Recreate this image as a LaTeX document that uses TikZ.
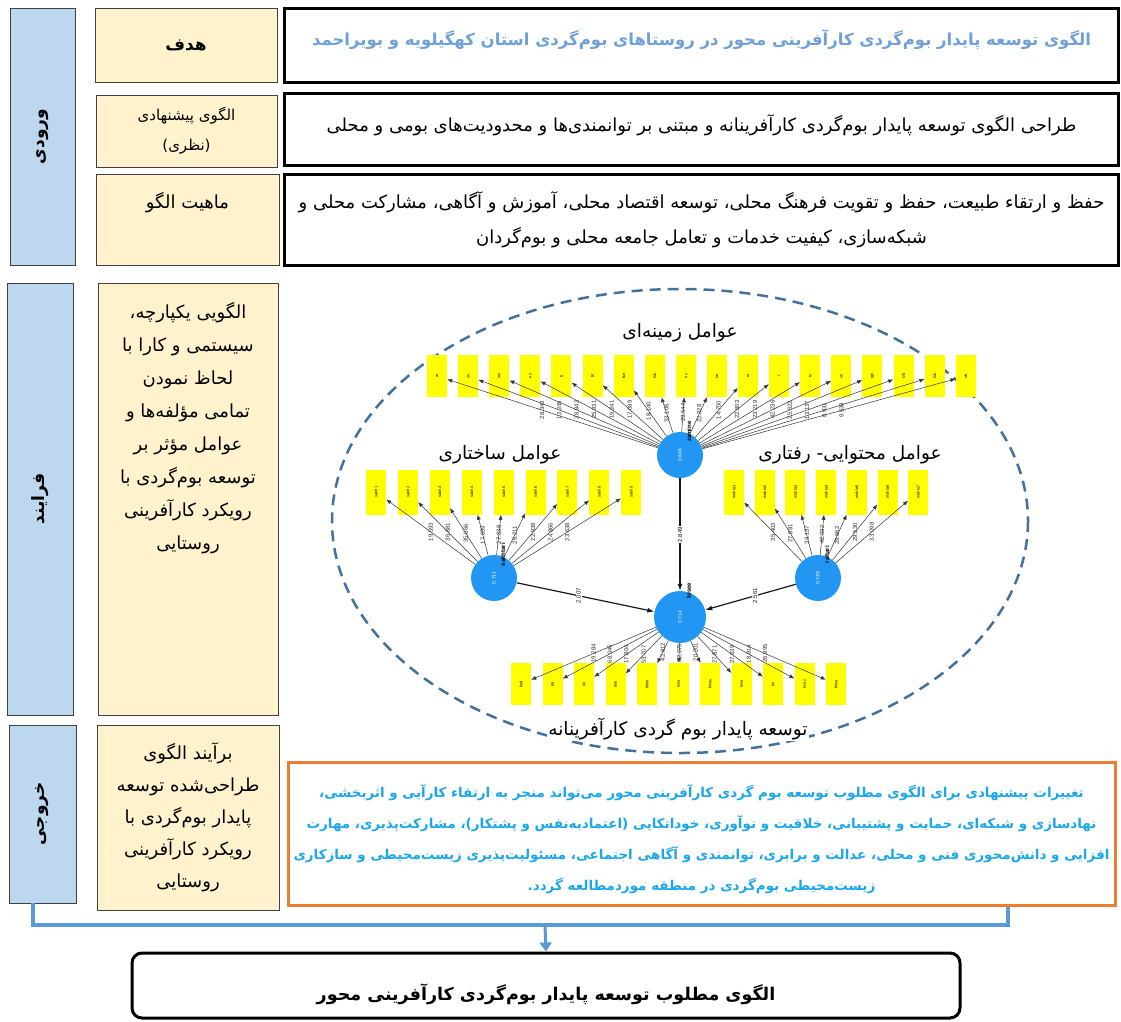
\documentclass[tikz,border=0pt]{standalone}
\usepackage{fontspec}
\usetikzlibrary{arrows.meta}
\TeXXeTstate=1
\newfontfamily\fa[Script=Arabic]{DejaVu Sans}
\newfontfamily\lat{Liberation Sans}
\definecolor{phaseblue}{HTML}{BDD7EE}
\definecolor{cellbeige}{HTML}{FFF2CC}
\definecolor{titleblue}{HTML}{6FA0D8}
\definecolor{ringblue}{HTML}{41719C}
\definecolor{linkblue}{HTML}{5B9BD5}
\definecolor{orng}{HTML}{ED7D31}
\definecolor{skyblue}{HTML}{1AA7EC}
\definecolor{lvblue}{HTML}{2196F3}
\definecolor{indyellow}{HTML}{FFFF00}
\newcommand{\rl}[1]{\beginR #1\endR}
\newcommand{\nj}{^^^^200c}

\begin{document}
\begin{tikzpicture}[x=1pt,y=-1pt,
  phase/.style={draw=black!75, fill=phaseblue, line width=1pt, rotate=90, inner sep=0pt,
    font=\fa\bfseries\fontsize{17}{20}\selectfont},
  cell/.style={draw=black!75, fill=cellbeige, line width=1pt, inner sep=0pt, align=center,
    font=\fa\fontsize{18}{32}\selectfont},
  frame/.style={draw=black, line width=3pt, fill=white, minimum width=834pt, inner sep=0pt,
    align=center, font=\fa\fontsize{18}{35}\selectfont},
  ind/.style={fill=indyellow, rotate=90, minimum width=42pt, minimum height=20pt, inner sep=0pt,
    font=\lat\fontsize{4}{5}\selectfont},
  lv/.style={circle, fill=lvblue, rotate=90, minimum size=46pt, inner sep=0pt,
    font=\lat\fontsize{5}{6}\selectfont, text=white},
  lvname/.style={rotate=90, font=\lat\bfseries\fontsize{6}{7}\selectfont},
  load/.style={-{Latex[length=5pt,width=4pt]}, line width=0.5pt, black!80},
  inner/.style={-{Latex[length=7pt,width=5pt]}, line width=1.2pt, black!90},
  coef/.style={rotate=90, inner sep=0.8pt, font=\lat\fontsize{6}{7}\selectfont},
  grp/.style={font=\fa\fontsize{18.5}{22}\selectfont},
  link/.style={linkblue, line width=4pt}
]
\useasboundingbox (0,0) rectangle (1121,1021);

% left column
\node[phase, minimum width=257pt, minimum height=65pt] (inph) at (42.5,136.5) {\rl{ورودی}};
\node[phase, minimum width=432pt, minimum height=66pt] (prph) at (40,499) {\rl{فرایند}};
\node[phase, minimum width=178pt, minimum height=67pt] (outph) at (42.5,814) {\rl{خروجی}};

% second column
\node[cell, minimum width=182pt, minimum height=74pt, font=\fa\bfseries\fontsize{17}{20}\selectfont] (goal) at (186,45) {\rl{هدف}};
\node[cell, minimum width=181pt, minimum height=72pt, font=\fa\fontsize{15}{30}\selectfont] (sugg) at (186.5,131) {\rl{الگوی پیشنهادی}\\\rl{(نظری)}};
\node[cell, minimum width=183pt, minimum height=91pt] (nat) at (187.5,219.5) {};
\node[font=\fa\fontsize{18}{22}\selectfont] (natxt) at (187.5,203) {\rl{ماهیت الگو}};
\node[cell, minimum width=180pt, minimum height=432pt] (proc) at (188,499) {};
\node[anchor=north, align=center, font=\fa\fontsize{18}{33}\selectfont] (proctxt) at (188,299)
  {\rl{الگویی یکپارچه،}\\\rl{سیستمی و کارا با}\\\rl{لحاظ نمودن}\\\rl{تمامی مؤلفه\nj ها و}\\
   \rl{عوامل مؤثر بر}\\\rl{توسعه بوم\nj گردی با}\\\rl{رویکرد کارآفرینی}\\\rl{روستایی}};
\node[cell, minimum width=182pt, minimum height=185pt] (res) at (188,817.5) {};
\node[align=center, font=\fa\fontsize{18}{32}\selectfont] (restxt) at (188,817)
  {\rl{برآیند الگوی}\\\rl{طراحی\nj شده توسعه}\\\rl{پایدار بوم\nj گردی با}\\\rl{رویکرد کارآفرینی}\\\rl{روستایی}};

% right column
\node[frame, minimum height=74pt] (title) at (701.5,45) {};
\node[text=titleblue, font=\fa\bfseries\fontsize{16.5}{20}\selectfont] (titletxt) at (701.5,40)
  {\rl{الگوی توسعه پایدار بوم\nj گردی کارآفرینی محور در روستاهای بوم\nj گردی استان کهگیلویه و بویراحمد}};
\node[frame, minimum height=72pt] (design) at (701.5,129) {};
\node[font=\fa\fontsize{18}{22}\selectfont] (designtxt) at (701.5,125)
  {\rl{طراحی الگوی توسعه پایدار بوم\nj گردی کارآفرینانه و مبتنی بر توانمندی\nj ها و محدودیت\nj های بومی و محلی}};
\node[frame, minimum height=91pt] (aims) at (701.5,219.5)
  {\rl{حفظ و ارتقاء طبیعت، حفظ و تقویت فرهنگ محلی، توسعه اقتصاد محلی، آموزش و آگاهی، مشارکت محلی و}\\
   \rl{شبکه\nj سازی، کیفیت خدمات و تعامل جامعه محلی و بوم\nj گردان}};

% model
\draw[ringblue, line width=2.5pt, dash pattern=on 11pt off 7pt] (680,521) ellipse [x radius=348, y radius=232];

\node[grp] (zlab) at (680,333) {\rl{عوامل زمینه\nj ای}};
\node[grp] (slab) at (500,455) {\rl{عوامل ساختاری}};
\node[grp] (rlab) at (850,455) {\rl{عوامل محتوایی- رفتاری}};
\node[grp, fill=white, inner sep=1pt] (tlab) at (678,729) {\rl{توسعه پایدار بوم گردی کارآفرینانه}};

\node[lv] (zam) at (680,455) {0.646};
\node[lv] (sakh) at (494,578) {0.711};
\node[lv] (raf) at (818,578) {0.749};
\node[lv, minimum size=52pt] (tose) at (680,617) {0.714};
\node[lvname] at ([xshift=9pt]zam.east) {zamine};
\node[lvname] at ([xshift=9pt]sakh.east) {sakhtari};
\node[lvname] at ([xshift=9pt]raf.east) {raftari};
\node[lvname] at ([xshift=9pt]tose.east) {tosee};

\foreach \lbl [count=\i] in {ar,im,mn,ez,b,bt,bzt,fsk,hz,tar,ra,r,tz,sh,tgh,tzb,tsk,sb}
  \node[ind] (z\i) at ({437+31.1*(\i-1)},376) {\lbl};
\foreach \v [count=\i] in {28.343,12.245,28.842,25.931,19.241,17.089,18.140,33.106,29.644,
    22.328,14.750,22.803,23.219,42.236,25.622,13.137,8.931,9.538}
  \draw[load] (zam) -- (z\i) node[coef, pos=0.55] {\v};

\foreach \i in {1,...,9}
  \node[ind, minimum width=45pt] (s\i) at ({376+31.9*(\i-1)},492) {sakh\i};
\foreach \v [count=\i] in {19.593,36.681,35.666,17.059,27.838,26.211,22.938,24.866,23.638}
  \draw[load] (sakh) -- (s\i) node[coef, pos=0.5] {\v};

\foreach \i in {1,...,7}
  \node[ind, minimum width=45pt] (m\i) at ({734+30.7*(\i-1)},492) {mohta\i};
\foreach \v [count=\i] in {35.403,27.881,33.137,42.032,29.662,29.530,33.098}
  \draw[load] (raf) -- (m\i) node[coef, pos=0.5] {\v};

\foreach \lbl [count=\i] in {ked,kb,kk,kkh,kkho,kma,kmas,kmo,kn,ksaz,khsa}
  \node[ind] (k\i) at ({521+31.5*(\i-1)},684) {\lbl};
\foreach \v [count=\i] in {19.284,68.045,17.804,53.707,42.812,32.075,20.201,27.871,27.639,18.814,26.995}
  \draw[load] (tose) -- (k\i) node[coef, pos=0.5] {\v};

\draw[inner] (zam) -- (tose) node[coef, pos=0.5, fill=white] {2.849};
\draw[inner] (sakh) -- (tose) node[coef, pos=0.45, fill=white] {2.007};
\draw[inner] (raf) -- (tose) node[coef, pos=0.45, fill=white] {2.561};

% output
\node[draw=orng, line width=3pt, fill=white, minimum width=827pt, minimum height=143pt, inner sep=0pt] (chg) at (701.5,833.5) {};
\node[align=center, text=skyblue, font=\fa\bfseries\fontsize{13.5}{31}\selectfont] (chgtxt) at (701.5,839.5)
  {\rl{تغییرات پیشنهادی برای الگوی مطلوب توسعه بوم گردی کارآفرینی محور می\nj تواند منجر به ارتقاء کارآیی و اثربخشی،}\\
   \rl{نهادسازی و شبکه\nj ای، حمایت و پشتیبانی، خلاقیت و نوآوری، خوداتکایی (اعتمادبه\nj نفس و پشتکار)، مشارکت\nj پذیری، مهارت}\\
   \rl{افزایی و دانش\nj محوری فنی و محلی، عدالت و برابری، توانمندی و آگاهی اجتماعی، مسئولیت\nj پذیری زیست\nj محیطی و سازکاری}\\
   \rl{زیست\nj محیطی بوم\nj گردی در منطقه موردمطالعه گردد.}};

\node[draw=black, line width=3pt, rounded corners=10pt, fill=white, minimum width=828pt, minimum height=65pt] (final) at (546,985.5) {};
\node[font=\fa\bfseries\fontsize{17.5}{20}\selectfont] (finaltxt) at (546,994)
  {\rl{الگوی مطلوب توسعه پایدار بوم\nj گردی کارآفرینی محور}};

\coordinate (lj) at (33,903);
\coordinate (jn) at (545,925);
\coordinate (rj) at (1008,907);
\draw[link] (lj) |- (jn) -| (rj);
\draw[link, line width=3pt, -{Triangle[length=9pt,width=12pt]}] (jn) -- (final.north);
\end{tikzpicture}
\end{document}
